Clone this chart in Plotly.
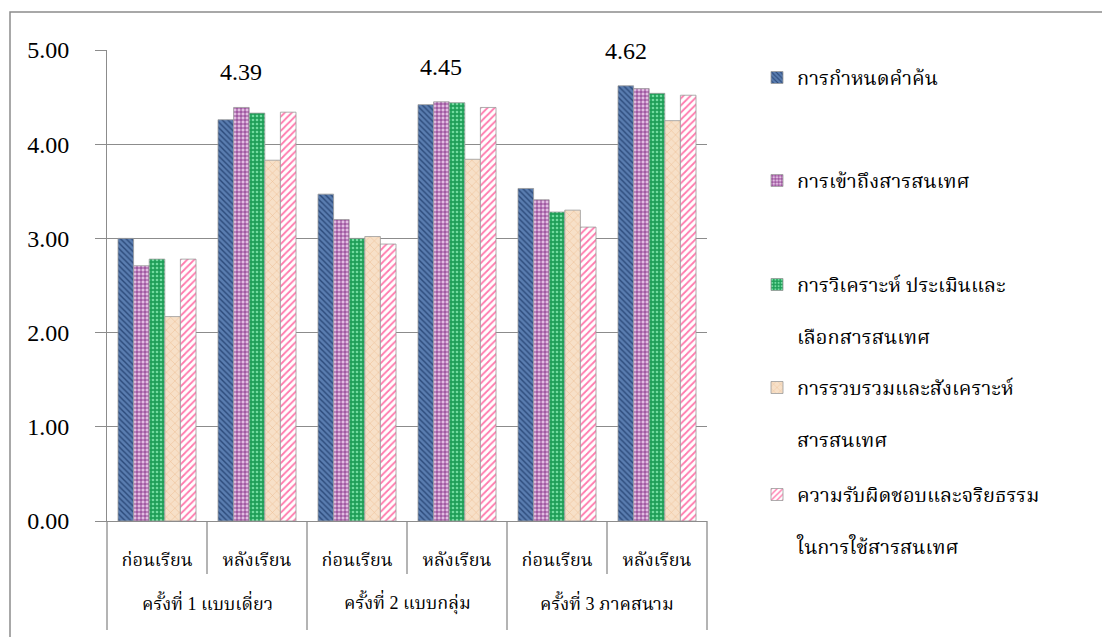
import plotly.graph_objects as go

# ---------------- data ----------------
sessions = ["ครั้งที่ 1 แบบเดี่ยว", "ครั้งที่ 2 แบบกลุ่ม", "ครั้งที่ 3 ภาคสนาม"]
phases = ["ก่อนเรียน", "หลังเรียน", "ก่อนเรียน", "หลังเรียน", "ก่อนเรียน", "หลังเรียน"]

series_names = [
    "การกำหนดคำค้น",
    "การเข้าถึงสารสนเทศ",
    "การวิเคราะห์ ประเมินและ<br><br>เลือกสารสนเทศ",
    "การรวบรวมและสังเคราะห์<br><br>สารสนเทศ",
    "ความรับผิดชอบและจริยธรรม<br><br>ในการใช้สารสนเทศ",
]
keyword_search = [3.00, 4.26, 3.47, 4.42, 3.53, 4.62]
info_access = [2.71, 4.39, 3.20, 4.45, 3.41, 4.59]
analysis_eval = [2.78, 4.33, 3.00, 4.44, 3.28, 4.54]
synthesis = [2.17, 3.83, 3.02, 3.84, 3.30, 4.25]
ethics = [2.78, 4.34, 2.94, 4.39, 3.12, 4.52]

y_ticks = [0, 1, 2, 3, 4, 5]
y_ticklabels = ["0.00", "1.00", "2.00", "3.00", "4.00", "5.00"]

# data labels shown: (series index, category index)
labelled_points = [(1, 1), (1, 3), (0, 5)]

# ---------------- styling ----------------
all_values = [keyword_search, info_access, analysis_eval, synthesis, ethics]
patterns = [
    dict(shape="\\", bgcolor="#5a7db0", fgcolor="#2c4a7a", size=4, solidity=0.35, fillmode="replace"),
    dict(shape="+", bgcolor="#e2bde2", fgcolor="#7a1f7c", size=4, solidity=0.35, fillmode="replace"),
    dict(shape=".", bgcolor="#1f9e58", fgcolor="#72dba0", size=4, solidity=0.35, fillmode="replace"),
    dict(shape="x", bgcolor="#f7e0c8", fgcolor="#eabb8e", size=6, solidity=0.15, fillmode="replace"),
    dict(shape="/", bgcolor="#ffffff", fgcolor="#ff79ad", size=5, solidity=0.35, fillmode="replace"),
]

serif = "'Liberation Serif', 'Noto Serif Thai', 'Times New Roman', serif"
grid_col = "#8c8c8c"
BARGAP = 0.22
n_series = len(all_values)
n_cats = len(phases)
per_session = n_cats // len(sessions)
cat_pos = list(range(n_cats))

# page offset (browser body margin) and plot-area position in screen pixels
OFF = 8
SL, SR, ST, SB = 107, 707, 50, 521
W, H = 1110 - OFF, 637 - OFF


def px_x(p):
    return (p - SL) / (SR - SL)


def px_y(p):
    return (SB - p) / (SB - ST)


fig = go.Figure()
legend_ids = ["legend", "legend2", "legend3", "legend4", "legend5"]
for i, (name, vals) in enumerate(zip(series_names, all_values)):
    fig.add_trace(go.Bar(
        x=cat_pos, y=vals, name=name,
        customdata=phases,
        marker=dict(pattern=patterns[i], line=dict(color="#9a9a9a", width=0.8)),
        legend=legend_ids[i],
        hovertemplate="%{customdata}: %{y:.2f}<extra></extra>",
    ))

bar_w = (1 - BARGAP) / n_series
for si, ci in labelled_points:
    v = all_values[si][ci]
    fig.add_annotation(
        x=ci + (si - (n_series - 1) / 2) * bar_w, y=v, xref="x", yref="y",
        text=f"{v:.2f}", showarrow=False, yanchor="middle", yshift=35,
        font=dict(family=serif, size=24, color="#000000"),
    )

# outer (session) labels centred under each pair of categories
for g, s in enumerate(sessions):
    fig.add_annotation(
        x=g * per_session + (per_session - 1) / 2, xref="x",
        y=px_y(602), yref="paper", yanchor="middle",
        text=s, showarrow=False,
        font=dict(family=serif, size=18, color="#000000"),
    )

# category dividers below the axis (Excel-style multi-level labels)
for b in range(n_cats + 1):
    outer = (b % per_session == 0)
    fig.add_shape(type="line", xref="paper", yref="paper",
                  x0=b / n_cats, x1=b / n_cats, y0=0,
                  y1=px_y(630 if outer else 574),
                  line=dict(color=grid_col, width=1.3))

# outer chart border
fig.add_shape(type="rect", xref="paper", yref="paper",
              x0=px_x(10), x1=px_x(1113), y0=px_y(645), y1=px_y(12),
              line=dict(color="#8c8c8c", width=1.5), fillcolor="rgba(0,0,0,0)", layer="below")

legend_centers = [80, 183, 287, 390, 497]
legend_layout = {}
for lid, c in zip(legend_ids, legend_centers):
    legend_layout[lid] = dict(
        x=px_x(757), xanchor="left", y=px_y(c - 22), yanchor="top",
        font=dict(family=serif, size=20, color="#000000"),
        bgcolor="rgba(0,0,0,0)", valign="top", itemclick=False,
    )

fig.update_layout(
    width=W, height=H,
    margin=dict(l=SL - OFF, r=W - (SR - OFF), t=ST - OFF, b=H - (SB - OFF), autoexpand=False),
    paper_bgcolor="white", plot_bgcolor="white",
    barmode="group", bargap=BARGAP, bargroupgap=0,
    showlegend=True,
    font=dict(family=serif, color="#000000"),
    **legend_layout,
)
fig.update_yaxes(
    range=[0, 5], tickvals=y_ticks, ticktext=y_ticklabels,
    showgrid=True, gridcolor=grid_col, gridwidth=1,
    showline=True, linecolor=grid_col, linewidth=1,
    ticks="outside", ticklen=11, tickcolor=grid_col,
    tickfont=dict(family=serif, size=24, color="#000000"),
    ticklabelstandoff=21, zeroline=False, automargin=False,
)
fig.update_xaxes(
    type="linear", range=[-0.5, n_cats - 0.5],
    tickvals=cat_pos, ticktext=phases,
    showgrid=False, zeroline=False,
    showline=True, linecolor=grid_col, linewidth=1,
    ticks="",
    tickfont=dict(family=serif, size=18, color="#000000"),
    ticklabelstandoff=22, automargin=False,
)

fig.write_html("out.html")
